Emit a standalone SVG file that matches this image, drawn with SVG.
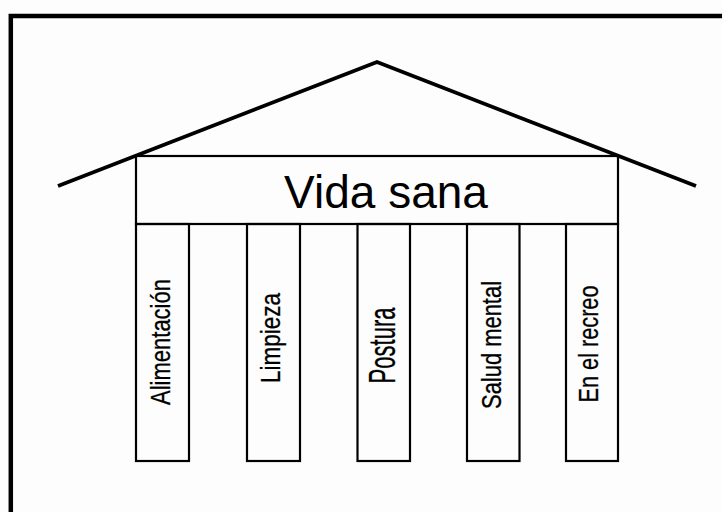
<svg xmlns="http://www.w3.org/2000/svg" width="722" height="512" viewBox="0 0 722 512">
  <style>
    .frame { fill: none; stroke: #000; stroke-width: 4.5; }
    .roof { fill: none; stroke: #000; stroke-width: 3.8; stroke-linejoin: miter; stroke-linecap: butt; }
    .box { fill: none; stroke: #000; stroke-width: 2.2; }
    .title { font-family: "Liberation Sans", Arial, sans-serif; font-size: 46px; fill: #000; text-anchor: middle; }
    .lbl { font-family: "Liberation Sans Narrow", "Arial Narrow", "Liberation Sans", sans-serif; font-size: 27.5px; fill: #000; text-anchor: middle; stroke: #000; stroke-width: 0.3; }
  </style>
  <rect x="0" y="0" width="722" height="512" fill="#fdfdfd"/>
  <g id="frame">
    <path class="frame" d="M10.8,512 V16 H722"/>
  </g>
  <g id="roof">
    <polyline class="roof" points="58,186 377,62 696,186"/>
  </g>
  <g id="vida-sana">
    <rect class="box" x="136" y="156" width="482" height="68"/>
    <text class="title" x="386" y="208">Vida sana</text>
  </g>
  <g id="col-alimentacion">
    <rect class="box" x="136" y="224" width="53" height="237"/>
    <text class="lbl" transform="translate(170,342) rotate(-90)" textLength="126" lengthAdjust="spacingAndGlyphs">Alimentación</text>
  </g>
  <g id="col-limpieza">
    <rect class="box" x="247" y="224" width="53" height="237"/>
    <text class="lbl" transform="translate(279.5,338) rotate(-90)" textLength="90" lengthAdjust="spacingAndGlyphs">Limpieza</text>
  </g>
  <g id="col-postura">
    <rect class="box" x="357.5" y="224" width="52.5" height="237"/>
    <text class="lbl" style="font-size:37px" transform="translate(394.5,345.5) rotate(-90)" textLength="76" lengthAdjust="spacingAndGlyphs">Postura</text>
  </g>
  <g id="col-salud-mental">
    <rect class="box" x="467" y="224" width="52.5" height="237"/>
    <text class="lbl" transform="translate(501,345) rotate(-90)" textLength="128" lengthAdjust="spacingAndGlyphs">Salud mental</text>
  </g>
  <g id="col-en-el-recreo">
    <rect class="box" x="566" y="224" width="52" height="237"/>
    <text class="lbl" transform="translate(598,344) rotate(-90)" textLength="117" lengthAdjust="spacingAndGlyphs">En el recreo</text>
  </g>
  <g id="connectors"></g>
</svg>
